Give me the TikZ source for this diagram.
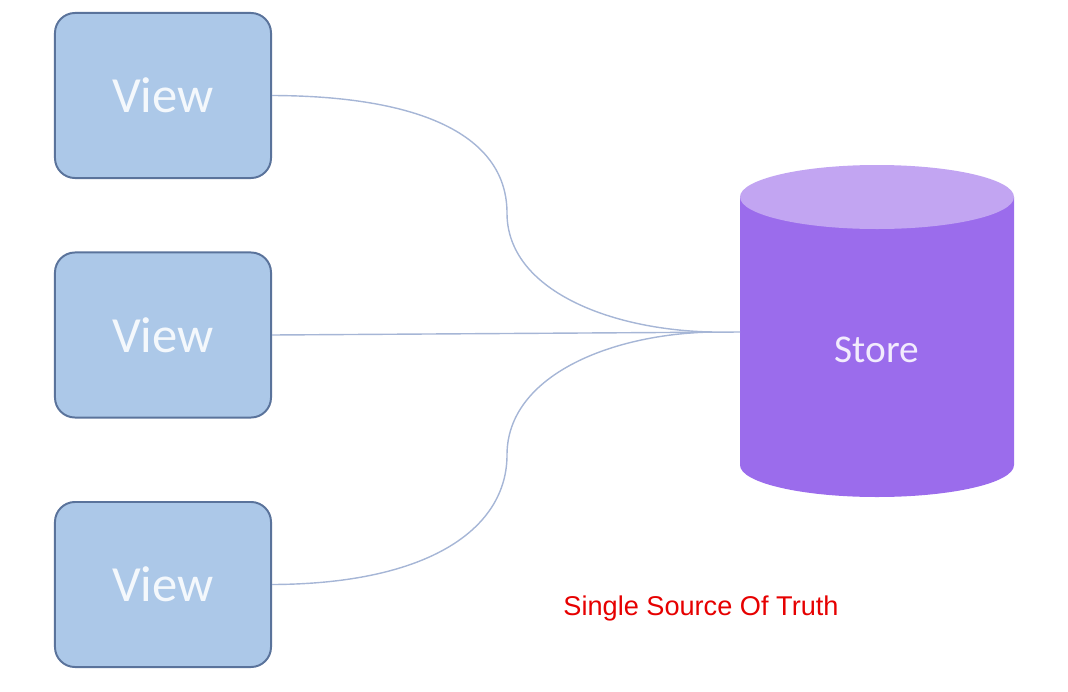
\documentclass[tikz,border=0pt]{standalone}
\usepackage{fontspec}
\newfontfamily\viewfont{Carlito}
\newfontfamily\notefont{Liberation Sans}
\usetikzlibrary{positioning,calc}

\definecolor{viewfill}{HTML}{ACC8E8}
\definecolor{viewedge}{HTML}{5A739B}
\definecolor{viewtext}{HTML}{F4F8FC}
\definecolor{wirecol}{HTML}{A6B6D6}
\definecolor{storebody}{HTML}{9B6CEC}
\definecolor{storetop}{HTML}{C2A5F2}
\definecolor{storetext}{HTML}{F2ECFD}
\definecolor{notered}{HTML}{E60000}

\begin{document}
\begin{tikzpicture}
                    [x=0.025cm,y=0.025cm,
                     view/.style={draw=viewedge,fill=viewfill,line width=1.4pt,rounded corners=0.5cm,
                                  minimum width=5.4cm,minimum height=4.125cm,inner sep=0pt,
                                  font=\viewfont\fontsize{36}{40}\selectfont,text=viewtext},
                     wire/.style={draw=wirecol,line width=1pt},
                     note/.style={font=\notefont\fontsize{19.3}{22}\selectfont,text=notered}]

                        \useasboundingbox (0,0) rectangle (1068,-692);

                        \node[view] (v1) at (163,-95.5) {View};
                        \node[view] (v2) at (163,-335) {View};
                        \node[view] (v3) at (163,-584.5) {View};

                        % the store
                        \fill[storebody] (740,-197) -- (740,-465)
                            arc[start angle=180,end angle=360,x radius=137,y radius=32] -- (1014,-197) -- cycle;
                        \fill[storetop] (877,-197) ellipse[x radius=137,y radius=32];
                        \node[font=\viewfont\fontsize{28}{32}\selectfont,text=storetext,anchor=base] (store) at (877,-362) {Store};

                        \coordinate (storeW) at (740,-332);
                        \coordinate (hub) at (712,-332);
                        \coordinate (bend1) at (507,-213);
                        \coordinate (bend3) at (507,-455);

                        \draw[wire] (v1.east) .. controls (430,-96) and (507,-140) .. (bend1)
                                              .. controls (507,-290) and (610,-330) .. (hub);
                        \draw[wire] (v2.east) -- (storeW);
                        \draw[wire] (v3.east) .. controls (430,-584) and (507,-528) .. (bend3)
                                              .. controls (507,-376) and (610,-334) .. (hub);

                        \node[note,anchor=base] (sot) at (701,-615) {Single Source Of Truth};

                \end{tikzpicture}
\end{document}
